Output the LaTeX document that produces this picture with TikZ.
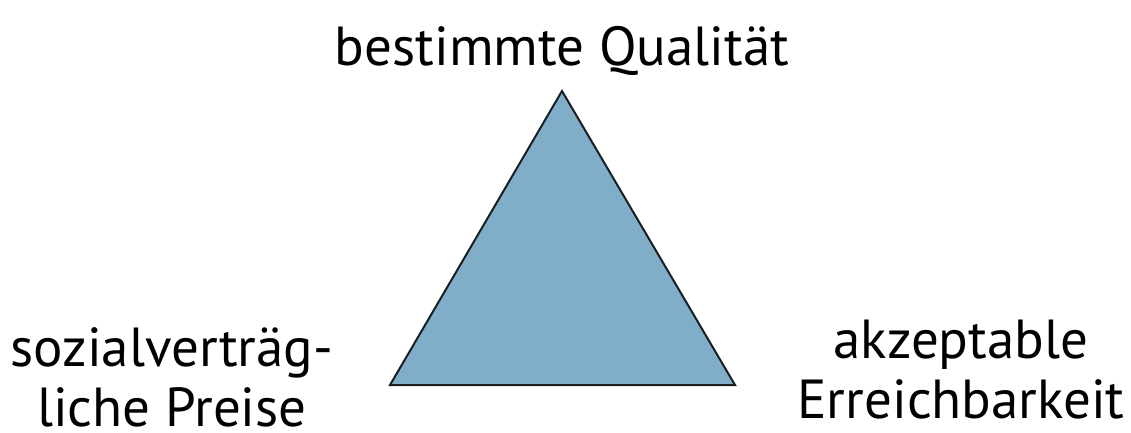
\documentclass[tikz,border=0pt]{standalone}
\usepackage{fontspec}
\setmainfont{PT Sans}
\usepackage{xcolor}
\definecolor{trifill}{RGB}{128,174,200}
\definecolor{triline}{RGB}{25,30,35}
\usetikzlibrary{positioning,calc}

\begin{document}
\begin{tikzpicture}[x=1pt,y=-1pt,
  goal/.style={font=\fontsize{55}{60}\selectfont, align=center, inner sep=0pt, text=black},
  tri/.style={draw=triline, fill=trifill, line width=2pt, line join=miter}
]
\useasboundingbox (0,0) rectangle (1131,432);

%% corners
\coordinate (top)   at (562,91);
\coordinate (left)  at (390,385);
\coordinate (right) at (735,385);

\draw[tri] (top) -- (left) -- (right) -- cycle;

%% labels
\node[goal, anchor=base] (quali) at (562,65) {bestimmte Qualität};
\node[goal, anchor=center] (preis) at (172,377) {sozialverträg-\\liche Preise};
\node[goal, anchor=center] (reach) at (961,370) {akzeptable\\Erreichbarkeit};
\end{tikzpicture}
\end{document}
